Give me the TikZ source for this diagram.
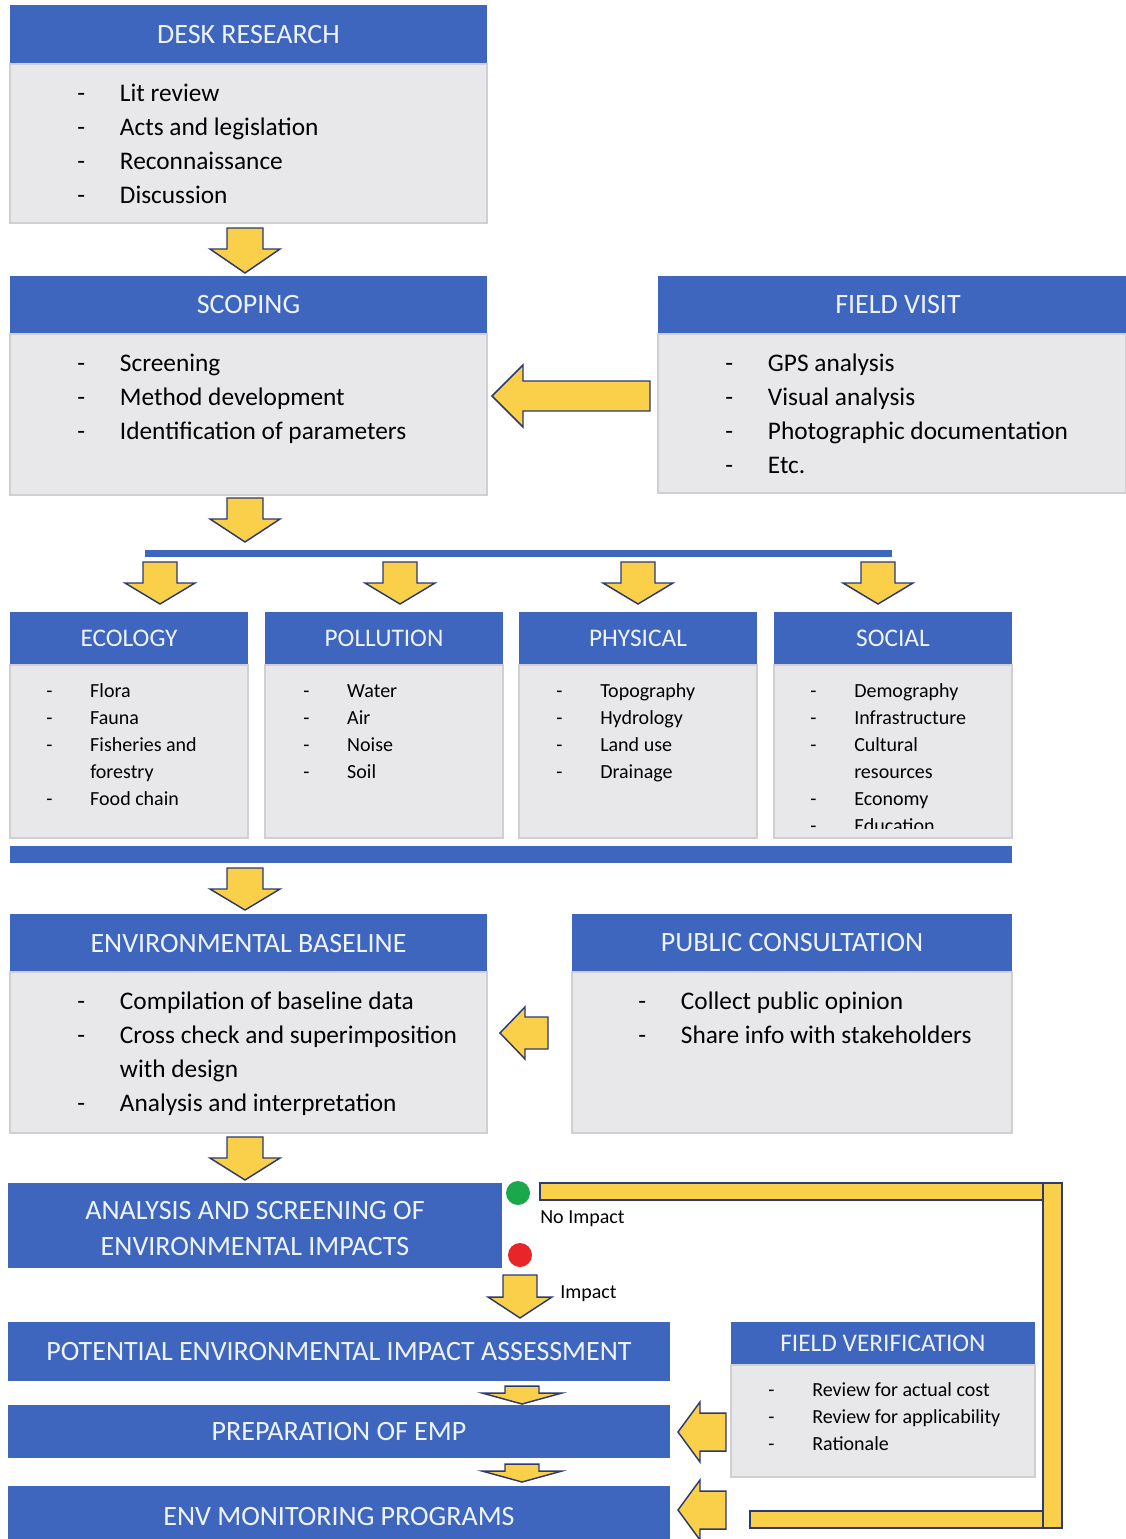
\documentclass[tikz,border=0pt]{standalone}
\usepackage{fontspec}
\setmainfont{Carlito}
\usetikzlibrary{fit}

\definecolor{hdrblue}{HTML}{3E66BF}
\definecolor{hdrtext}{HTML}{EEF3FA}
\definecolor{bodygray}{HTML}{E8E8EA}
\definecolor{bodyline}{HTML}{D0D0D3}
\definecolor{arrowfill}{HTML}{FAD04A}
\definecolor{arrowline}{HTML}{2C3A70}
\definecolor{goodgreen}{HTML}{1BA84A}
\definecolor{badred}{HTML}{E8262A}

\tikzset{
  hdr/.style={fill=hdrblue, draw=none, inner sep=0pt},
  hdrtitle/.style={inner sep=0pt, text=hdrtext, align=center,
    font=\fontsize{21}{27}\selectfont},
  hdrtitlesmall/.style={hdrtitle, font=\fontsize{19}{23}\selectfont},
  bodybox/.style={fill=bodygray, draw=bodyline, line width=0.8pt, inner sep=0pt},
  biglist/.style={anchor=base west, inner sep=0pt, font=\fontsize{19}{25.5}\selectfont},
  smalllist/.style={anchor=base west, inner sep=0pt, font=\fontsize{15}{20.25}\selectfont},
  blockarrow/.style={fill=arrowfill, draw=arrowline, line width=1.1pt, line join=miter},
  hbar/.style={fill=hdrblue, draw=none},
  dot/.style={circle, inner sep=0pt, minimum size=18pt, draw=none},
  note/.style={anchor=west, inner sep=0pt, font=\fontsize{15}{18}\selectfont},
}

% bullet lists: dash column followed by the entry
\newcommand\bigitems[1]{\begin{tabular}[t]{@{}p{32pt}@{}l@{}}#1\end{tabular}}
\newcommand\smallitems[1]{\begin{tabular}[t]{@{}p{33pt}@{}l@{}}#1\end{tabular}}

% block arrows
\newcommand\downblk[6]{% centre x, top, head start, tip, half shaft, half head
  \draw[blockarrow] ({#1-#5},#2) -- ({#1+#5},#2) -- ({#1+#5},#3) -- ({#1+#6},#3)
    -- (#1,#4) -- ({#1-#6},#3) -- ({#1-#5},#3) -- cycle;}
\newcommand\leftblk[6]{% tip x, head end x, tail x, centre y, half shaft, half head
  \draw[blockarrow] (#3,{#4-#5}) -- (#2,{#4-#5}) -- (#2,{#4-#6}) -- (#1,#4)
    -- (#2,{#4+#6}) -- (#2,{#4+#5}) -- (#3,{#4+#5}) -- cycle;}

\begin{document}
\begin{tikzpicture}[x=0.75pt,y=-0.75pt]
\useasboundingbox[fill=white] (0,0) rectangle (1126,1539);

% ---------- desk research ----------
\node[hdr, fit={(10,5) (487,64)}] (deskH) {};
\node[hdrtitle] (deskT) at (deskH.center) {DESK RESEARCH};
\node[bodybox, fit={(10,64) (487,223)}] (deskB) {};
\node[biglist] (deskL) at (77,101) {\bigitems{
  - & Lit review\\
  - & Acts and legislation\\
  - & Reconnaissance\\
  - & Discussion\\}};

\downblk{245}{228}{249}{273}{18}{35}

% ---------- scoping ----------
\node[hdr, fit={(10,276) (487,334)}] (scopeH) {};
\node[hdrtitle] (scopeT) at (scopeH.center) {SCOPING};
\node[bodybox, fit={(10,334) (487,495)}] (scopeB) {};
\node[biglist] (scopeL) at (77,371) {\bigitems{
  - & Screening\\
  - & Method development\\
  - & Identification of parameters\\}};

% ---------- field visit ----------
\node[hdr, fit={(658,276) (1126,334)}] (fieldH) {};
\node[hdrtitle] (fieldT) at ([xshift=4.5pt]fieldH.center) {FIELD VISIT};
\node[bodybox, fit={(658,334) (1126,493)}] (fieldB) {};
\node[biglist] (fieldL) at (725,371) {\bigitems{
  - & GPS analysis\\
  - & Visual analysis\\
  - & Photographic documentation\\
  - & Etc.\\}};

\leftblk{492}{523}{650}{396}{15}{31}

\downblk{245}{498}{519}{542}{18}{35}

% distribution bar
\path[hbar] (145,550) rectangle (892,557);
\downblk{160}{562}{583}{604}{17}{35}
\downblk{400}{562}{583}{604}{17}{35}
\downblk{638}{562}{583}{604}{17}{35}
\downblk{878}{562}{583}{604}{17}{35}

% ---------- four baseline themes ----------
\node[hdr, fit={(10,612) (248,665)}] (ecoH) {};
\node[hdrtitlesmall] (ecoT) at (ecoH.center) {ECOLOGY};
\node[bodybox, fit={(10,665) (248,838)}] (ecoB) {};
\node[smalllist] (ecoL) at (46,697.5) {\smallitems{
  - & Flora\\
  - & Fauna\\
  - & Fisheries and\\
    & forestry\\
  - & Food chain\\}};

\node[hdr, fit={(265,612) (503,665)}] (polH) {};
\node[hdrtitlesmall] (polT) at (polH.center) {POLLUTION};
\node[bodybox, fit={(265,665) (503,838)}] (polB) {};
\node[smalllist] (polL) at (303,697.5) {\smallitems{
  - & Water\\
  - & Air\\
  - & Noise\\
  - & Soil\\}};

\node[hdr, fit={(519,612) (757,665)}] (phyH) {};
\node[hdrtitlesmall] (phyT) at (phyH.center) {PHYSICAL};
\node[bodybox, fit={(519,665) (757,838)}] (phyB) {};
\node[smalllist] (phyL) at (556,697.5) {\smallitems{
  - & Topography\\
  - & Hydrology\\
  - & Land use\\
  - & Drainage\\}};

\node[hdr, fit={(774,612) (1012,665)}] (socH) {};
\node[hdrtitlesmall] (socT) at (socH.center) {SOCIAL};
\node[bodybox, fit={(774,665) (1012,838)}] (socB) {};
\begin{scope}
  \clip (774,665) rectangle (1012,828);
  \node[smalllist] (socL) at (810,697.5) {\smallitems{
    - & Demography\\
    - & Infrastructure\\
    - & Cultural\\
      & resources\\
    - & Economy\\
    - & Education\\}};
\end{scope}

% collecting bar
\path[hbar] (10,846) rectangle (1012,863);

\downblk{245}{868}{889}{910}{18}{35}

% ---------- environmental baseline ----------
\node[hdr, fit={(10,914) (487,972)}] (envH) {};
\node[hdrtitle] (envT) at (envH.center) {ENVIRONMENTAL BASELINE};
\node[bodybox, fit={(10,972) (487,1133)}] (envB) {};
\node[biglist] (envL) at (77,1009) {\bigitems{
  - & Compilation of baseline data\\
  - & Cross check and superimposition\\
    & with design\\
  - & Analysis and interpretation\\}};

% ---------- public consultation ----------
\node[hdr, fit={(572,914) (1012,972)}] (pubH) {};
\node[hdrtitle] (pubT) at (pubH.center) {PUBLIC CONSULTATION};
\node[bodybox, fit={(572,972) (1012,1133)}] (pubB) {};
\node[biglist] (pubL) at (638,1009) {\bigitems{
  - & Collect public opinion\\
  - & Share info with stakeholders\\}};

\leftblk{500}{525}{548}{1033}{16}{26}

\downblk{245}{1137}{1158}{1180}{18}{35}

% ---------- impact screening ----------
\node[hdr, fit={(8,1183) (502,1268)}] (anaH) {};
\node[hdrtitle] (anaT) at ([yshift=-2pt]anaH.center) {ANALYSIS AND SCREENING OF\\ENVIRONMENTAL IMPACTS};

% no-impact loop back to monitoring
\path[blockarrow] (540,1183) rectangle (1062,1200);
\path[blockarrow] (750,1511) rectangle (1062,1528);
\path[blockarrow] (1043,1183) rectangle (1062,1528);

\node[dot, fill=goodgreen] (noimp) at (518,1193) {};
\node[dot, fill=badred] (imp) at (520,1255) {};
\node[note] (noimpT) at (540,1219) {No Impact};

\downblk{520}{1275}{1297}{1318}{17}{32}
\node[note] (impT) at (560,1294) {Impact};

% ---------- assessment chain ----------
\node[hdr, fit={(8,1322) (670,1381)}] (peiaH) {};
\node[hdrtitle] (peiaT) at (peiaH.center) {POTENTIAL ENVIRONMENTAL IMPACT ASSESSMENT};
\downblk{522}{1386}{1393}{1404}{17}{40}
\node[hdr, fit={(8,1405) (670,1458)}] (empH) {};
\node[hdrtitle] (empT) at (empH.center) {PREPARATION OF EMP};
\downblk{522}{1464}{1471}{1482}{17}{40}
\node[hdr, fit={(8,1486) (670,1539)}] (monH) {};
\node[hdrtitle] (monT) at ([yshift=-3pt]monH.center) {ENV MONITORING PROGRAMS};

% ---------- field verification ----------
\node[hdr, fit={(731,1322) (1035,1365)}] (fvH) {};
\node[hdrtitlesmall] (fvT) at (fvH.center) {FIELD VERIFICATION};
\node[bodybox, fit={(731,1365) (1035,1477)}] (fvB) {};
\node[smalllist] (fvL) at (768,1396.5) {\smallitems{
  - & Review for actual cost\\
  - & Review for applicability\\
  - & Rationale\\}};

\leftblk{678}{700}{726}{1432}{19}{30}
\leftblk{678}{700}{726}{1510}{19}{30}

\end{tikzpicture}
\end{document}
